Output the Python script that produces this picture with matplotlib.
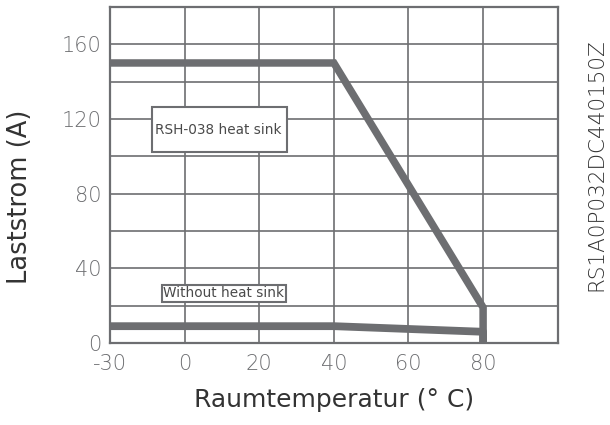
import numpy as np
import matplotlib
matplotlib.use("Agg")
import matplotlib.pyplot as plt
from matplotlib.patches import Rectangle

# derating curves
temp_heatsink = [-30, 40, 80, 80]
current_heatsink = [150, 150, 19, 0]
temp_bare = [-30, 40, 80, 80]
current_bare = [9, 9, 6, 0]

x_ticks = [-30, 0, 20, 40, 60, 80]
y_ticks = [0, 40, 80, 120, 160]
y_minor = [20, 60, 100, 140, 180]

gray = "#6d6e71"
plt.rcParams['font.family'] = ['DejaVu Sans']
plt.rcParams['font.weight'] = 'light'
plt.rcParams['axes.unicode_minus'] = False

# the -30..0 span is drawn as wide as one 20 degree step
def fwd(x):
    x = np.asarray(x, dtype=float)
    return np.where(x < 0, x * 2 / 3, x)

def inv(y):
    y = np.asarray(y, dtype=float)
    return np.where(y < 0, y * 1.5, y)

fig = plt.figure(figsize=(6.1, 4.25), dpi=100)
ax = fig.add_axes([0.1803, 0.193, 0.734, 0.7906])
ax.set_xscale('function', functions=(fwd, inv))
ax.set_xlim(-30, 100)
ax.set_ylim(0, 180)

ax.set_xticks(x_ticks)
ax.set_xticks([100], minor=True)
ax.set_yticks(y_ticks)
ax.set_yticks(y_minor, minor=True)
ax.grid(True, which='both', color=gray, lw=1.2)
ax.set_axisbelow(True)
ax.tick_params(which='both', length=0, labelsize=15, labelcolor=gray)
ax.tick_params(axis='x', pad=8)
ax.tick_params(axis='y', pad=6)
for s in ax.spines.values():
    s.set_color(gray)
    s.set_linewidth(1.6)

ax.plot(temp_heatsink, current_heatsink, color=gray, lw=5.4,
        solid_capstyle='round', solid_joinstyle='miter', zorder=3)
ax.plot(temp_bare, current_bare, color=gray, lw=5.6,
        solid_capstyle='round', solid_joinstyle='round', zorder=3)

# label boxes
ax.add_patch(Rectangle((0.094, 0.568), 0.301, 0.134, transform=ax.transAxes,
                       facecolor='white', edgecolor=gray, lw=1.5, zorder=4))
ax.text(0.101, 0.635, "RSH-038 heat sink", transform=ax.transAxes,
        fontsize=9.8, fontweight='normal', color='#4a4a4a',
        va='center', ha='left', zorder=5)
ax.text(0.254, 0.148, "Without heat sink", transform=ax.transAxes,
        fontsize=9.8, fontweight='normal', color='#4a4a4a',
        va='center', ha='center', zorder=5,
        bbox=dict(boxstyle='square,pad=0.12', facecolor='white',
                  edgecolor=gray, lw=1.5))

ax.set_xlabel("Raumtemperatur (° C)", fontsize=18, color='#333333', labelpad=10)
ax.set_ylabel("Laststrom (A)", fontsize=18.5, color='#333333')
ax.yaxis.set_label_coords(-0.172, 0.435)

fig.text(0.978, 0.612, "RS1A0P032DC440150Z", rotation=90, fontsize=15.5,
         color='#333333', ha='center', va='center')

fig.savefig("out.png", dpi=100)
